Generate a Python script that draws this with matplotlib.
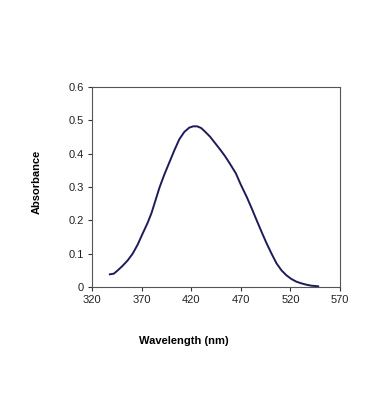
import matplotlib
matplotlib.use("Agg")
import matplotlib.pyplot as plt

# absorbance spectrum
wavelength = [338, 342, 346, 351, 356, 361, 366, 371, 376, 380, 384, 388, 393,
              398, 403, 408, 413, 418, 422, 426, 430, 434, 439, 444, 449, 454,
              459, 465, 470, 476, 481, 486, 491, 496, 501, 506, 511, 516, 521,
              526, 531, 536, 541, 545, 548]
absorbance = [0.038, 0.040, 0.050, 0.064, 0.080, 0.100, 0.127, 0.160, 0.192,
              0.222, 0.260, 0.298, 0.338, 0.374, 0.410, 0.443, 0.465, 0.478,
              0.482, 0.482, 0.477, 0.466, 0.451, 0.432, 0.413, 0.393, 0.370,
              0.341, 0.307, 0.270, 0.236, 0.200, 0.165, 0.131, 0.100, 0.071,
              0.050, 0.035, 0.024, 0.016, 0.011, 0.007, 0.004, 0.003, 0.002]

x_ticks = [320, 370, 420, 470, 520, 570]
y_ticks = [0, 0.1, 0.2, 0.3, 0.4, 0.5, 0.6]

plt.rcParams["font.family"] = ["Liberation Sans", "DejaVu Sans"]

W, H = 372, 417
fig = plt.figure(figsize=(W / 100, H / 100), dpi=100)
ax = fig.add_axes([92 / W, 1 - 287 / H, 248 / W, 200 / H])

ax.plot(wavelength, absorbance, color="#1c1c5a", lw=1.4)

ax.set_xlim(320, 570)
ax.set_ylim(0, 0.6)
ax.set_xticks(x_ticks)
ax.set_yticks(y_ticks)
ax.set_yticklabels(["0" if v == 0 else f"{v:.1f}" for v in y_ticks])
ax.tick_params(labelsize=8, length=3, width=0.8, color="#333333",
               labelcolor="#222222", pad=3)
for s in ax.spines.values():
    s.set_color("#555555")
    s.set_linewidth(0.8)

fig.text(37 / W, 1 - 182 / H, "Absorbance", rotation=90, ha="center",
         va="center", fontsize=8, fontweight="bold")
fig.text(184 / W, 1 - 341 / H, "Wavelength (nm)", ha="center", va="center",
         fontsize=8, fontweight="bold")

fig.savefig("out.png", dpi=100)
